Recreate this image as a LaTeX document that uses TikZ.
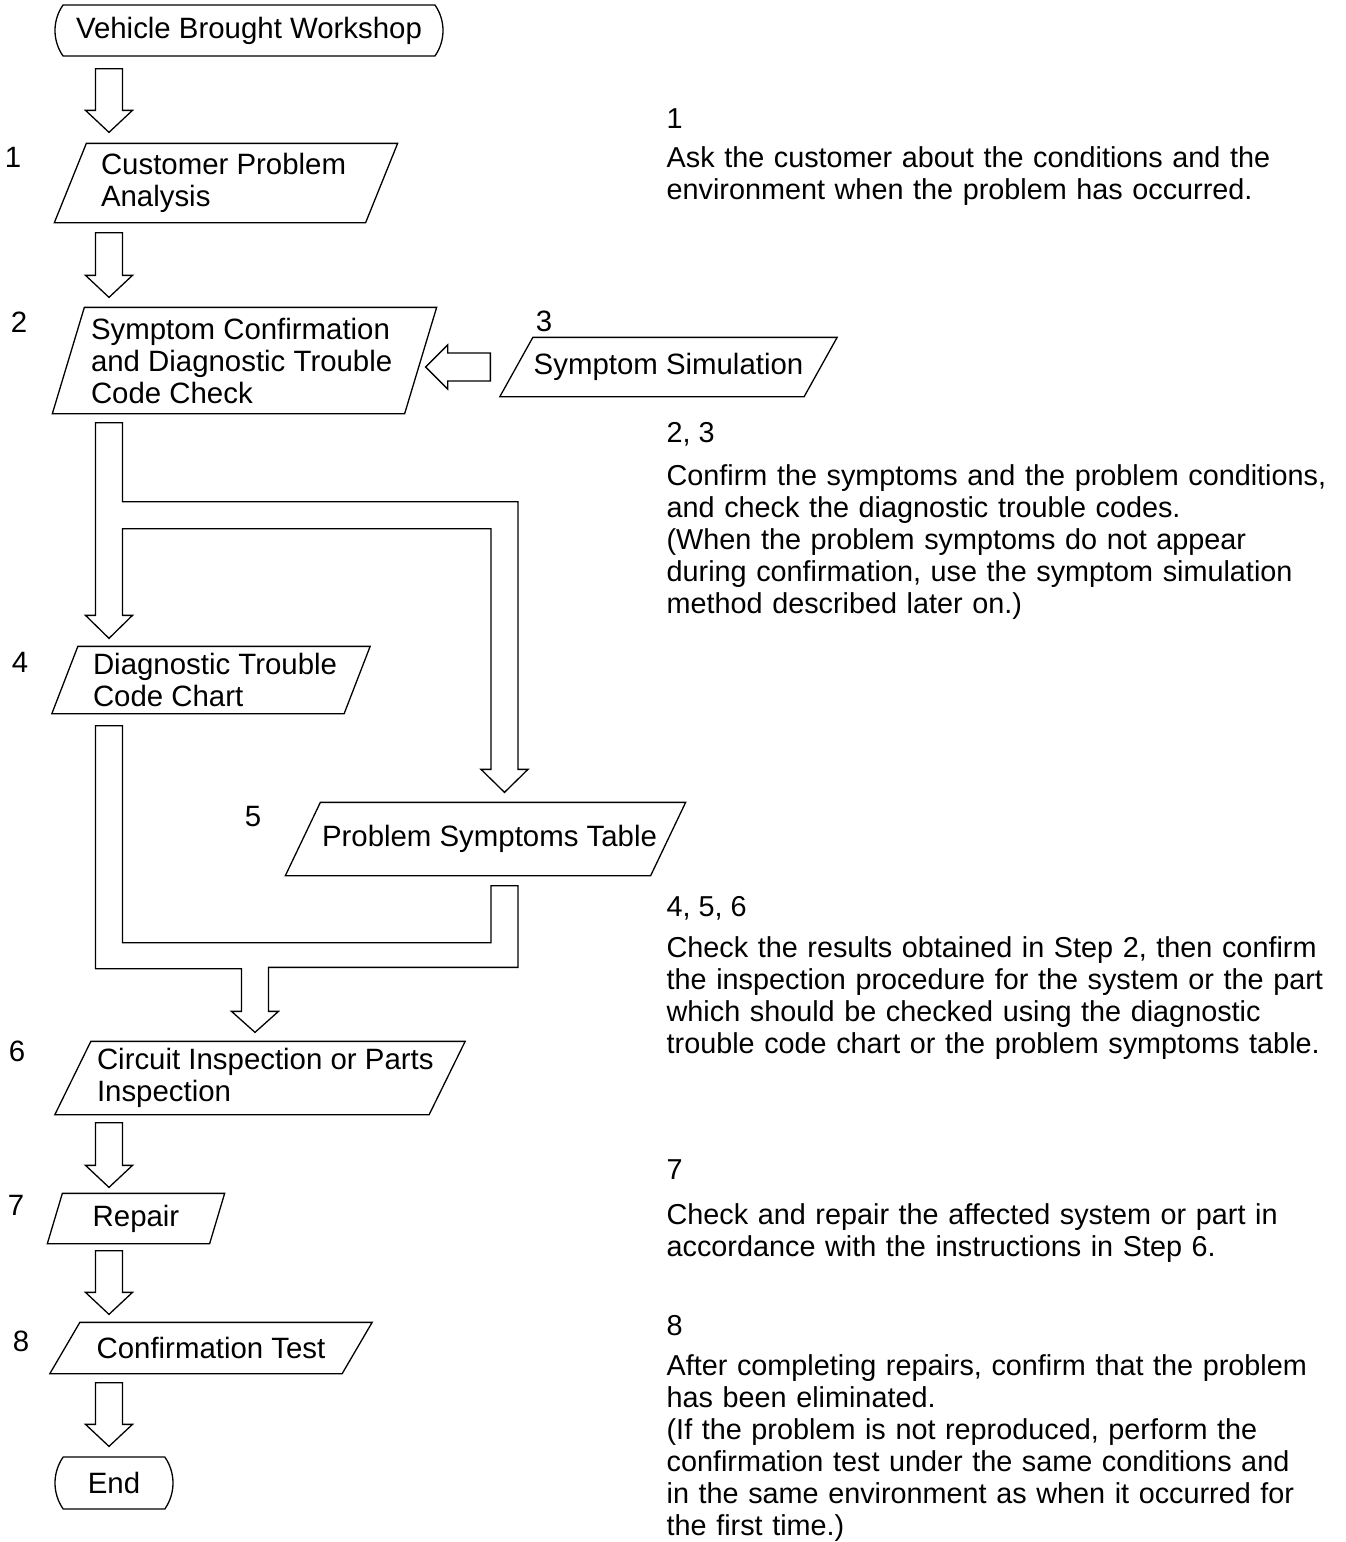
\documentclass[tikz,border=0pt]{standalone}
\usepackage{fontspec}
\setmainfont{Liberation Sans}
\usetikzlibrary{calc,shapes.misc}

\begin{document}
\begin{tikzpicture}[x=1pt, y=-1pt, line width=1.3pt, font={\fontsize{29.4}{32}\selectfont}]
	\tikzstyle{terminal} = [ draw, rounded rectangle, rounded rectangle arc length=70, inner sep=0pt ];
	\tikzstyle{box} = [ rectangle, inner sep=0pt ];
	\tikzstyle{boxtext} = [ anchor=west, align=left, inner sep=0pt ];
	\tikzstyle{stepno} = [ anchor=base, inner sep=0pt ];
	\tikzstyle{notehead} = [ anchor=base west, inner sep=0pt, font={\fontsize{28.8}{32}\selectfont} ];
	\tikzstyle{note} = [ anchor=north west, align=left, text width=680pt, inner sep=0pt, font={\fontsize{28.8}{32}\selectfont} ];
	\tikzstyle{hollow} = [ draw, fill=white, line join=miter ];

	\def \pgram #1#2{
		\draw ($(#1.north west)+(#2,0)$) -- ($(#1.north east)+(#2,0)$) -- ($(#1.south east)+(-#2,0)$) -- ($(#1.south west)+(-#2,0)$) -- cycle;
	}
	\def \hollowdown #1#2{
		\draw[hollow] ($(#1)+(-13.5,0)$) -- ($(#1)+(13.5,0)$) -- ($(#2)+(13.5,-22)$) -- ($(#2)+(23.5,-22)$) -- (#2) -- ($(#2)+(-23.5,-22)$) -- ($(#2)+(-13.5,-22)$) -- cycle;
	}

	\useasboundingbox (0,0) rectangle (1345,1542);
	\coordinate (axis) at (109,0);
	\coordinate (raxis) at (504.5,0);
	\coordinate (maxis) at (255,0);

	\node[terminal, minimum width=388pt, minimum height=51pt] (start) at (249,30.5) {Vehicle Brought Workshop};
	\node[box, minimum width=310pt, minimum height=78pt] (analysis) at (226,183) {};
	\node[box, minimum width=351pt, minimum height=105pt] (check) at (244.5,360.5) {};
	\node[box, minimum width=303pt, minimum height=58pt] (simul) at (668.5,367) {Symptom Simulation};
	\node[box, minimum width=291pt, minimum height=66pt] (chart) at (211,680) {};
	\node[box, minimum width=364pt, minimum height=72pt] (table) at (485.5,839) {};
	\node[box, minimum width=373pt, minimum height=72pt] (inspect) at (260,1078) {};
	\node[box, minimum width=161pt, minimum height=49pt] (repair) at (136,1218.5) {Repair};
	\node[box, minimum width=291pt, minimum height=50pt] (test) at (211,1348) {Confirmation Test};
	\node[terminal, minimum width=118pt, minimum height=52pt] (finish) at (114,1483) {End};

	\foreach \n/\s in {analysis/16, check/16, simul/16.5, chart/13, table/17.5, inspect/18, repair/7.5, test/15} {
		\pgram{\n}{\s}
	}

	\node[boxtext] (analysis-t) at ($(analysis.west)+(30,0)$) {Customer Problem\\Analysis};
	\node[boxtext] (check-t) at ($(check.west)+(22,0)$) {Symptom Confirmation\\and Diagnostic Trouble\\Code Check};
	\node[boxtext] (chart-t) at ($(chart.west)+(27.5,0)$) {Diagnostic Trouble\\Code Chart};
	\node[boxtext] (table-t) at ($(table.west)+(18.5,0)$) {Problem Symptoms Table};
	\node[boxtext] (inspect-t) at ($(inspect.west)+(23.5,0)$) {Circuit Inspection or Parts\\Inspection};

	\foreach \t/\x/\y in {1/13/167, 2/19/332, 3/544/331, 4/20/672, 5/253/826, 6/17/1061, 7/16/1215, 8/21/1351} {
		\node[stepno] (s\t) at (\x,\y) {\t};
	}

	\foreach \f/\t/\g/\h [count=\i] in {start/analysis/12/11, analysis/check/10/10, inspect/repair/8/6, repair/test/7/8, test/finish/9/10} {
		\coordinate (a\i) at ($(\f.south -| axis)+(0,\g)$);
		\coordinate (b\i) at ($(\t.north -| axis)+(0,-\h)$);
		\hollowdown{a\i}{b\i}
	}

	\coordinate (lt) at ($(check.east |- simul.west)+(5,0)$);
	\coordinate (lr) at ($(simul.west)+(-26,0)$);
	\draw[hollow] ($(lr)+(0,-14)$) -- ($(lr)+(0,14)$) -- ($(lt)+(22,14)$) -- ++(0,8) -- (lt) -- ++(22,-22) -- ++(0,8) -- cycle;

	\coordinate (s0) at ($(check.south -| axis)+(0,9)$);
	\coordinate (s1) at ($(chart.north -| axis)+(0,-8)$);
	\coordinate (s2) at ($(table.north -| raxis)+(0,-10)$);
	\draw[hollow] ($(s0)+(-13.5,0)$) -- ++(27,0) -- ++(0,79) -| ($(s2)+(13.5,-23)$) -- ++(10,0) -- (s2) -- ++(-23.5,-23) -- ++(10,0) |- ($(s0)+(13.5,106)$) -- ($(s1)+(13.5,-23)$) -- ++(10,0) -- (s1) -- ++(-23.5,-23) -- ++(10,0) -- cycle;

	\coordinate (m0) at ($(chart.south -| axis)+(0,12)$);
	\coordinate (m1) at ($(table.south -| raxis)+(0,10)$);
	\coordinate (m2) at ($(inspect.north -| maxis)+(0,-9)$);
	\draw[hollow] ($(m0)+(-13.5,0)$) -- ++(27,0) |- ($(m1)+(-13.5,57)$) -- ($(m1)+(-13.5,0)$) -- ++(27,0) |- ($(m2)+(13.5,-65)$) -- ++(0,44) -- ++(10,0) -- (m2) -- ++(-23.5,-21) -- ++(10,0) |- ($(m0)+(-13.5,243)$) -- cycle;

	\node[notehead] (n1) at (666,128) {1};
	\node[note] (d1) at (666,144.6) {\strut Ask the customer about the conditions and the\\environment when the problem has occurred.};
	\node[notehead] (n23) at (666,442) {2, 3};
	\node[note] (d23) at (666,462.6) {\strut Confirm the symptoms and the problem conditions,\\and check the diagnostic trouble codes.\\(When the problem symptoms do not appear\\during confirmation, use the symptom simulation\\method described later on.)};
	\node[notehead] (n456) at (666,916) {4, 5, 6};
	\node[note] (d456) at (666,934.6) {\strut Check the results obtained in Step 2, then confirm\\the inspection procedure for the system or the part\\which should be checked using the diagnostic\\trouble code chart or the problem symptoms table.};
	\node[notehead] (n7) at (666,1179) {7};
	\node[note] (d7) at (666,1201.6) {\strut Check and repair the affected system or part in\\accordance with the instructions in Step 6.};
	\node[notehead] (n8) at (666,1335) {8};
	\node[note] (d8) at (666,1352.6) {\strut After completing repairs, confirm that the problem\\has been eliminated.\\(If the problem is not reproduced, perform the\\confirmation test under the same conditions and\\in the same environment as when it occurred for\\the first time.)};
\end{tikzpicture}
\end{document}
